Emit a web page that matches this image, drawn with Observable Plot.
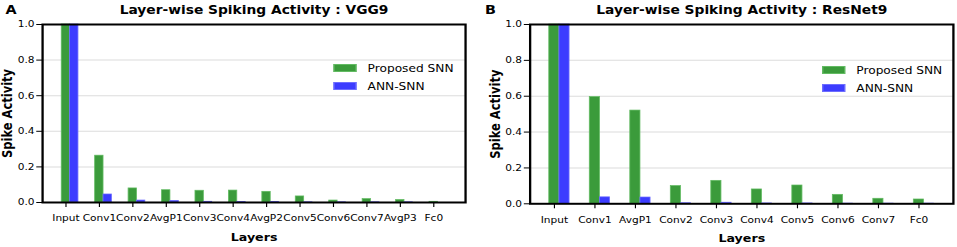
<!DOCTYPE html>
<html>
<head>
<meta charset="utf-8">
<script src="https://cdn.jsdelivr.net/npm/d3@7"></script>
<script src="https://cdn.jsdelivr.net/npm/@observablehq/plot@0.6"></script>
<style>
  html, body { margin: 0; padding: 0; background: #fff; }
  #wrap { position: relative; height: 247px; transform-origin: 0 0; font-family: "DejaVu Sans", sans-serif; }
  .panel { position: absolute; top: 0; }
  .legrow { position: absolute; display: flex; align-items: center; height: 8px; }
  .sw { width: 20.5px; height: 8px; box-sizing: border-box; }
  .lt { font-size: 10.6px; line-height: 8px; margin-left: 9.6px; white-space: nowrap; color: #000; }
</style>
</head>
<body>
<div id="wrap"></div>
<script>
// ---- data ----
const vggLayers = ["Input","Conv1","Conv2","AvgP1","Conv3","Conv4","AvgP2","Conv5","Conv6","Conv7","AvgP3","Fc0"];
const vggProposed = [1.0, 0.263, 0.079, 0.069, 0.066, 0.067, 0.060, 0.034, 0.011, 0.019, 0.014, 0.004];
const vggAnnSnn   = [1.0, 0.045, 0.011, 0.009, 0.004, 0.002, 0.002, 0.001, 0.001, 0.001, 0.001, 0.0];

const resLayers = ["Input","Conv1","AvgP1","Conv2","Conv3","Conv4","Conv5","Conv6","Conv7","Fc0"];
const resProposed = [1.0, 0.595, 0.520, 0.099, 0.128, 0.080, 0.102, 0.050, 0.028, 0.024];
const resAnnSnn   = [1.0, 0.036, 0.035, 0.003, 0.006, 0.002, 0.002, 0.001, 0.001, 0.001];

const yTicks = [0, 0.2, 0.4, 0.6, 0.8, 1.0];
const gridTicks = [0.2, 0.4, 0.6, 0.8];
const seriesNames = ["Proposed SNN", "ANN-SNN"];
const colors = { green: "#3b9b3b", greenEdge: "#62bb62", blue: "#3c3cff", blueEdge: "#6d6dff" };

// horizontal stretch of the reference image
const S = 1.15;
const wrap = document.getElementById("wrap");
wrap.style.width = (957 / S) + "px";
wrap.style.transform = `scale(${S}, 1)`;

function panel(cfg) {
  const n = cfg.layers.length;
  const data = cfg.layers.map((name, i) => ({ i, name, a: cfg.proposed[i], b: cfg.annsnn[i] }));
  const bw = 0.25;
  const chart = Plot.plot({
    width: cfg.width / S,
    height: 247,
    marginTop: 24,
    marginBottom: cfg.marginBottom,
    marginLeft: cfg.marginLeft / S,
    marginRight: cfg.marginRight / S,
    style: { fontFamily: "DejaVu Sans", fontSize: "9.2px", color: "#000", background: "transparent", overflow: "visible" },
    x: { type: "linear", domain: cfg.xDomain },
    y: { domain: [0, 1] },
    marks: [
      Plot.gridY(gridTicks, { stroke: "#dcdcdc", strokeOpacity: 1, strokeWidth: 1 }),
      Plot.rect(data, { x1: d => d.i - bw / 2, x2: d => d.i + bw / 2, y1: 0, y2: "a", fill: colors.green, stroke: colors.greenEdge, strokeWidth: 0.7 }),
      Plot.rect(data, { x1: d => d.i + bw / 2, x2: d => d.i + 1.5 * bw, y1: 0, y2: "b", fill: colors.blue, stroke: colors.blueEdge, strokeWidth: 0.7 }),
      Plot.axisX(d3.range(n), { tickFormat: i => cfg.layers[i], tickSize: 5, tickPadding: cfg.xPad, label: null, fontSize: 9.2, stroke: "#000", fill: "#000" }),
      Plot.axisY(yTicks, { tickFormat: d3.format(".1f"), tickSize: 5, tickPadding: 2, label: null, fontSize: 9.2, stroke: "#000", fill: "#000" }),
      Plot.frame({ stroke: "#000", strokeWidth: 2 }),
      Plot.text([cfg.title], { frameAnchor: "top", dy: -10.7, lineAnchor: "bottom", fontWeight: "bold", fontSize: 12, fill: "#000" }),
      Plot.text([cfg.letter], { frameAnchor: "top-left", dx: -(cfg.marginLeft / S - 4.3), dy: -10, lineAnchor: "bottom", textAnchor: "start", fontWeight: "bold", fontSize: 12.5, fill: "#000" }),
      Plot.text(["Layers"], { frameAnchor: "bottom", dy: cfg.xLabelDy, lineAnchor: "bottom", fontWeight: "bold", fontSize: 11, fill: "#000" }),
      Plot.text(["Spike Activity"], { frameAnchor: "left", dx: cfg.yLabelDx, rotate: -90, textAnchor: "middle", lineAnchor: "bottom", fontWeight: "bold", fontSize: 11.5, fill: "#000" })
    ]
  });
  const div = document.createElement("div");
  div.className = "panel";
  div.style.left = (cfg.left / S) + "px";
  div.appendChild(chart);
  // legend
  const rows = [
    { name: seriesNames[0], fill: colors.green, edge: colors.greenEdge, top: cfg.legTop },
    { name: seriesNames[1], fill: colors.blue, edge: colors.blueEdge, top: cfg.legTop + 17.6 }
  ];
  for (const r of rows) {
    const row = document.createElement("div");
    row.className = "legrow";
    row.style.left = (cfg.legLeft / S) + "px";
    row.style.top = r.top + "px";
    const sw = document.createElement("div");
    sw.className = "sw";
    sw.style.background = r.fill;
    sw.style.border = `0.7px solid ${r.edge}`;
    const t = document.createElement("span");
    t.className = "lt";
    t.textContent = r.name;
    row.appendChild(sw);
    row.appendChild(t);
    div.appendChild(row);
  }
  wrap.appendChild(div);
}

panel({
  layers: vggLayers, proposed: vggProposed, annsnn: vggAnnSnn,
  title: "Layer-wise Spiking Activity : VGG9", letter: "A",
  left: 0, width: 478, marginLeft: 42, marginRight: 13, marginBottom: 45,
  xDomain: [-0.7, 11.95],
  xPad: 7, xLabelDy: 39, yLabelDx: -26.3,
  legLeft: 333, legTop: 64
});
panel({
  layers: resLayers, proposed: resProposed, annsnn: resAnnSnn,
  title: "Layer-wise Spiking Activity : ResNet9", letter: "B",
  left: 480, width: 477, marginLeft: 50, marginRight: 3.7, marginBottom: 43.7,
  xDomain: [-0.6, 9.85],
  xPad: 8, xLabelDy: 38, yLabelDx: -26.1,
  legLeft: 341.7, legTop: 66
});
</script>
</body>
</html>
